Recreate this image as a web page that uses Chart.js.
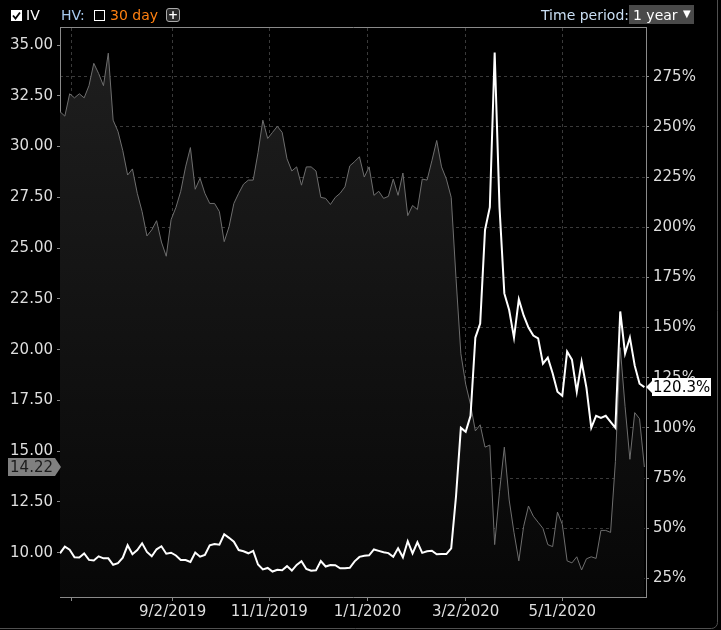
<!DOCTYPE html>
<html>
<head>
<meta charset="utf-8">
<script src="https://cdn.jsdelivr.net/npm/chart.js@4.4.0/dist/chart.umd.min.js"></script>
<style>
  body { margin: 0; background: #000; }
  #wrap { position: relative; width: 721px; height: 630px; overflow: hidden; background: #000; }
  #chart { position: absolute; left: 0; top: 0; }
  .hdr { position: absolute; top: 7px; font: 14px "DejaVu Sans", sans-serif; line-height: 16px; white-space: nowrap; }
  .cb { position: absolute; top: 10px; width: 9px; height: 9px; border: 1px solid #fff; }
  .plus { position: absolute; left: 166px; top: 8px; width: 12px; height: 12px; border: 1px solid #aaa; border-radius: 3px;
          background: #2a2a2a; color: #fff; font: bold 12px "DejaVu Sans", sans-serif; line-height: 12px; text-align: center; }
  .sel { position: absolute; left: 629px; top: 5px; width: 65px; height: 19px; background: #4a4a4a; }
</style>
</head>
<body>
<div id="wrap">
  <canvas id="chart" width="721" height="630"></canvas>
  <svg style="position:absolute;left:11px;top:10px" width="11" height="11">
    <rect x="0" y="0" width="11" height="11" fill="#fff"/>
    <path d="M2 5.5 L4.5 8.5 L9 2.5" stroke="#000" stroke-width="1.8" fill="none"/>
  </svg>
  <span class="hdr" style="left:26px;color:#fff">IV</span>
  <span class="hdr" style="left:61px;color:#a8cbef">HV:</span>
  <div class="cb" style="left:94px"></div>
  <span class="hdr" style="left:110px;color:#ff8010">30 day</span>
  <div class="plus">+</div>
  <span class="hdr" style="left:541px;color:#cadff4">Time period:</span>
  <div class="sel"></div>
  <span class="hdr" style="left:633px;color:#fff">1 year</span>
  <span class="hdr" style="left:683px;top:6px;color:#fff;font-size:10px">&#9660;</span>
</div>
<script>
// one sample every 3 calendar days, starting 6/24/2019
const startDate = '6/24/2019';
const stepDays = 3;

// stock price (left axis)
const priceValues = [
  31.72, 31.5, 32.6, 32.4, 32.6, 32.4, 33.0, 34.1, 33.6, 33.0,
  34.6, 31.3, 30.75, 29.8, 28.6, 28.9, 27.7, 26.8, 25.6, 25.9,
  26.35, 25.3, 24.6, 26.4, 27.0, 27.8, 29.0, 29.95, 27.9, 28.44,
  27.7, 27.2, 27.2, 26.8, 25.32, 26.05, 27.2, 27.7, 28.15, 28.35,
  28.35, 29.7, 31.3, 30.4, 30.7, 31.0, 30.7, 29.4, 28.8, 29.0,
  28.1, 29.0, 29.0, 28.8, 27.5, 27.45, 27.15, 27.5, 27.7, 28.02,
  29.05, 29.26, 29.5, 28.5, 29.0, 27.6, 27.8, 27.45, 27.55, 28.4,
  27.6, 28.7, 26.6, 27.1, 26.9, 28.4, 28.35, 29.3, 30.3, 29.0,
  28.4, 27.5, 23.5, 19.8, 18.3, 17.3, 16.0, 16.3, 15.2, 15.3,
  10.4, 13.0, 15.2, 12.6, 11.0, 9.6, 11.3, 12.3, 11.8, 11.5,
  11.2, 10.4, 10.3, 12.0, 11.4, 9.6, 9.5, 9.8, 9.15, 9.7,
  9.8, 9.72, 11.1, 11.1, 11.0, 14.5, 20.1, 17.2, 14.6, 16.9,
  16.6, 14.22
];

// implied volatility in % (right axis)
const ivValues = [
  37.5, 40.8, 39.3, 35.5, 35.4, 37.4, 34.2, 33.9, 36.0, 35.0,
  35.0, 31.8, 32.6, 35.3, 41.5, 37.0, 39.1, 42.5, 38.2, 36.0,
  39.5, 41.0, 37.3, 37.8, 36.4, 34.2, 34.1, 33.2, 37.9, 35.8,
  36.7, 41.5, 42.1, 41.8, 47.0, 45.2, 43.3, 39.1, 38.5, 37.5,
  38.7, 31.9, 29.5, 30.2, 28.4, 29.3, 29.1, 31.1, 28.9, 31.7,
  33.5, 29.7, 28.8, 29.0, 33.6, 30.9, 31.7, 31.6, 30.0, 30.0,
  30.3, 33.5, 35.7, 36.3, 36.5, 39.4, 38.7, 38.0, 37.6, 35.8,
  40.0, 35.5, 43.5, 37.5, 43.0, 37.7, 38.5, 38.8, 37.0, 37.1,
  37.1, 40.0, 66, 100, 98, 106, 145, 152, 198.6, 210,
  287, 210, 167, 158.7, 145, 164, 156, 150, 146, 144.6,
  132, 135, 127.2, 118, 116, 138, 134, 118, 133, 120,
  100, 106, 105, 106, 103, 100, 158, 137, 145, 131,
  122, 120.3
];

const dateTicks = ['7/1/2019', '9/2/2019', '11/1/2019', '1/1/2020', '3/2/2020', '5/1/2020'];
const priceTicks = [10, 12.5, 15, 17.5, 20, 22.5, 25, 27.5, 30, 32.5, 35];
const ivTicks = [25, 50, 75, 100, 125, 150, 175, 200, 225, 250, 275];

function toUTC(s) {
  const [m, d, y] = s.split('/').map(Number);
  return Date.UTC(y, m - 1, d);
}
function dayOf(s) {
  return Math.round((toUTC(s) - toUTC(startDate)) / 86400000);
}

Chart.defaults.font.family = '"DejaVu Sans", sans-serif';
Chart.defaults.font.size = 15;
Chart.defaults.color = '#dedede';

// top frame line, outer panel and the last-value badges
const overlay = {
  id: 'overlay',
  afterDraw(chart) {
    const { ctx, chartArea: a, scales } = chart;
    ctx.save();
    ctx.lineWidth = 1;
    ctx.strokeStyle = '#8a8a8a';
    ctx.beginPath();
    ctx.moveTo(a.left, a.top - 0.5);
    ctx.lineTo(a.right + 1, a.top - 0.5);
    ctx.stroke();

    ctx.strokeStyle = '#505050';
    ctx.beginPath();
    ctx.roundRect(-10.5, -10.5, 728, 639, 6);
    ctx.stroke();

    ctx.font = '15px "DejaVu Sans", sans-serif';
    ctx.textBaseline = 'middle';

    const lastPrice = priceValues[priceValues.length - 1];
    const py = Math.round(scales.yL.getPixelForValue(lastPrice));
    ctx.fillStyle = '#808080';
    ctx.beginPath();
    ctx.moveTo(8, py - 9);
    ctx.lineTo(55, py - 9);
    ctx.lineTo(61, py);
    ctx.lineTo(55, py + 9);
    ctx.lineTo(8, py + 9);
    ctx.closePath();
    ctx.fill();
    ctx.fillStyle = '#1c1c1c';
    ctx.textAlign = 'right';
    ctx.fillText(lastPrice.toFixed(2), 53, py + 1);

    const lastIv = ivValues[ivValues.length - 1];
    const iy = Math.round(scales.yR.getPixelForValue(lastIv));
    ctx.fillStyle = '#fff';
    ctx.beginPath();
    ctx.moveTo(646, iy);
    ctx.lineTo(652, iy - 6);
    ctx.lineTo(652, iy - 9);
    ctx.lineTo(711, iy - 9);
    ctx.lineTo(711, iy + 9);
    ctx.lineTo(652, iy + 9);
    ctx.lineTo(652, iy + 6);
    ctx.closePath();
    ctx.fill();
    ctx.fillStyle = '#000';
    ctx.textAlign = 'left';
    ctx.fillText(lastIv.toFixed(1) + '%', 653, iy + 1);
    ctx.restore();
  }
};

const ctx = document.getElementById('chart').getContext('2d');

new Chart(ctx, {
  type: 'line',
  data: {
    datasets: [
      {
        label: 'IV',
        data: ivValues.map((v, i) => ({ x: i * stepDays, y: v })),
        yAxisID: 'yR',
        borderColor: '#ffffff',
        borderWidth: 2,
        pointRadius: 0,
        tension: 0,
        order: 0
      },
      {
        label: 'Price',
        data: priceValues.map((v, i) => ({ x: i * stepDays, y: v })),
        yAxisID: 'yL',
        borderColor: '#6e6e6e',
        borderWidth: 1,
        pointRadius: 0,
        tension: 0,
        fill: 'start',
        backgroundColor: (c) => {
          const area = c.chart.chartArea;
          if (!area) return '#151515';
          const g = c.chart.ctx.createLinearGradient(0, area.top, 0, area.bottom);
          g.addColorStop(0, '#1f1f1f');
          g.addColorStop(1, '#070707');
          return g;
        },
        order: 1
      }
    ]
  },
  options: {
    responsive: false,
    animation: false,
    layout: { padding: { top: 28, left: 0, right: 0, bottom: 0 } },
    plugins: {
      legend: { display: false },
      tooltip: { enabled: false }
    },
    scales: {
      x: {
        type: 'linear',
        min: 0,
        max: 364,
        afterBuildTicks: (s) => { s.ticks = dateTicks.map(d => ({ value: dayOf(d) })); },
        afterFit: (s) => { s.height = 33; },
        ticks: {
          autoSkip: false,
          maxRotation: 0,
          padding: 2,
          callback: (v, i) => (i === 0 ? '' : dateTicks[i])
        },
        grid: { color: '#3a3a3a', tickColor: '#8a8a8a', tickLength: 4 },
        border: { color: '#8a8a8a', dash: [3, 3] }
      },
      yL: {
        position: 'left',
        min: 7.82,
        max: 35.84,
        afterBuildTicks: (s) => { s.ticks = priceTicks.map(v => ({ value: v })); },
        afterFit: (s) => { s.width = 60; },
        ticks: { autoSkip: false, padding: 4, callback: (v) => v.toFixed(2) },
        grid: { drawOnChartArea: false, tickColor: '#8a8a8a', tickLength: 3 },
        border: { color: '#8a8a8a' }
      },
      yR: {
        position: 'right',
        min: 15.72,
        max: 299.25,
        afterBuildTicks: (s) => { s.ticks = ivTicks.map(v => ({ value: v })); },
        afterFit: (s) => { s.width = 75; },
        ticks: { autoSkip: false, padding: 4, callback: (v) => v + '%' },
        grid: { color: '#3a3a3a', tickColor: '#8a8a8a', tickLength: 3 },
        border: { color: '#8a8a8a', dash: [3, 3] }
      }
    }
  },
  plugins: [overlay]
});
</script>
</body>
</html>
